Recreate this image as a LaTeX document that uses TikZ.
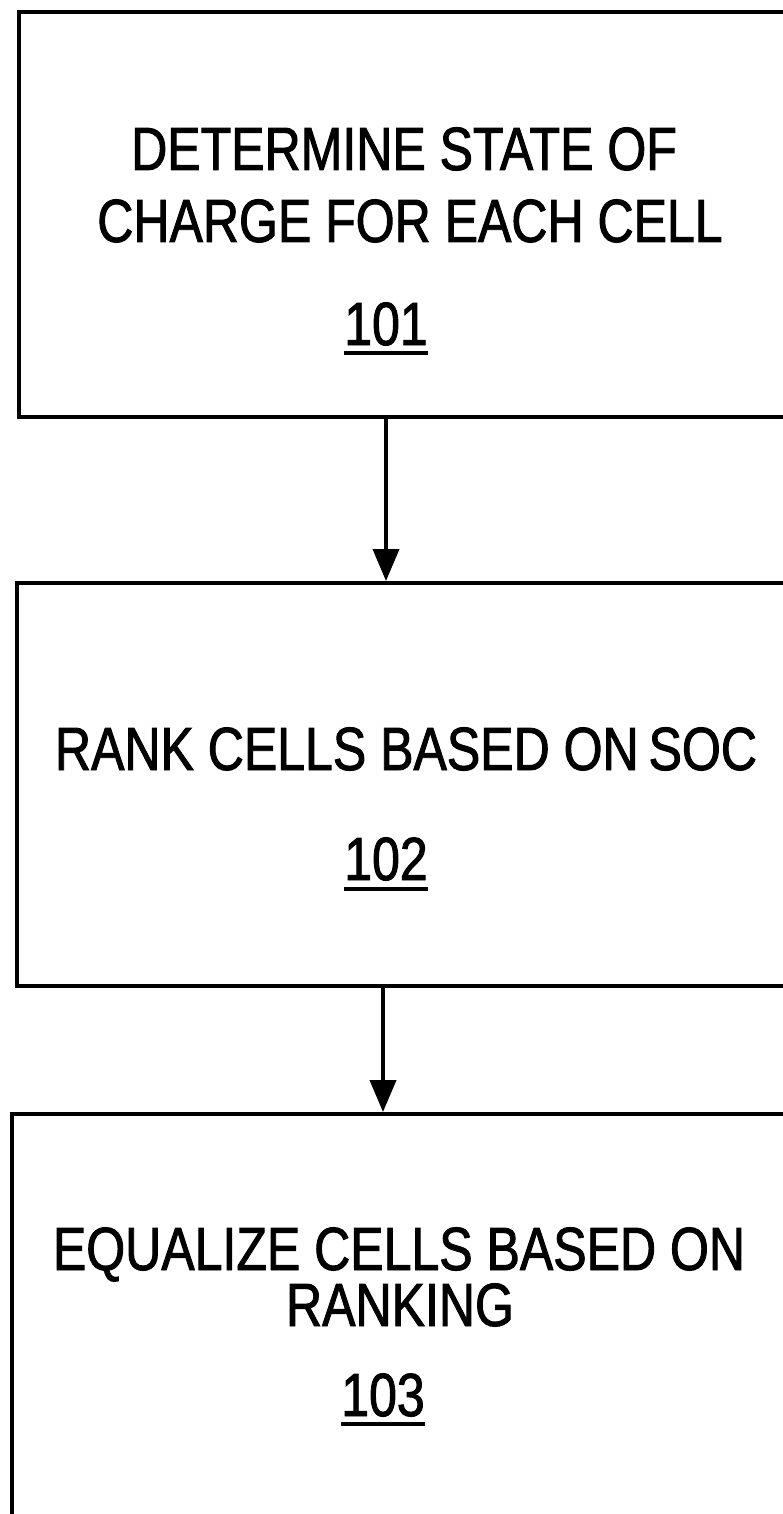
\documentclass[tikz,border=0pt]{standalone}
\usepackage{fontspec}
\setmainfont{Liberation Sans}[FakeStretch=0.82,FakeBold=1.5]
\usetikzlibrary{arrows.meta}
\begin{document}
\begin{tikzpicture}[x=1pt,y=-1pt,
  stepbox/.style={draw, line width=4pt, rectangle, anchor=north west, inner sep=0pt},
  lbl/.style={anchor=base, inner sep=0pt, font=\fontsize{61}{72}\selectfont},
  uline/.style={line width=3.5pt},
  conn/.style={line width=4pt, -{Triangle[width=26pt,length=32pt]}}]
\useasboundingbox (0,0) rectangle (783,1514);
\clip (0,0) rectangle (783,1514);
\fill[white] (0,0) rectangle (783,1514);
% boxes
\node[stepbox, minimum width=790pt, minimum height=405pt] (box1) at (17,10) {};
\node[stepbox, minimum width=790pt, minimum height=403pt] (box2) at (15,581) {};
\node[stepbox, minimum width=795pt, minimum height=430pt] (box3) at (10,1112) {};
% texts
\node[lbl] (t1a) at (404,170) {DETERMINE STATE OF};
\node[lbl] (t1b) at (410,242) {CHARGE FOR EACH CELL};
\node[lbl] (n101) at (386,345) {101};
\node[lbl] (t2a) at (406,770) {RANK CELLS BASED ON\kern-4pt\ SOC};
\node[lbl] (n102) at (386,880) {102};
\node[lbl] (t3a) at (399,1270) {EQUALIZE CELLS BASED ON};
\node[lbl] (t3b) at (400,1326) {RANKING};
\node[lbl] (n103) at (383,1416) {103};
% underlines
\draw[uline] ([yshift=-8pt]n101.base west) -- ([yshift=-8pt]n101.base east);
\draw[uline] ([yshift=-9pt]n102.base west) -- ([yshift=-9pt]n102.base east);
\draw[uline] ([yshift=-8pt]n103.base west) -- ([yshift=-8pt]n103.base east);
% connectors
\coordinate (xa) at (386,0);
\coordinate (xb) at (383,0);
\draw[conn] (box1.south -| xa) -- (box2.north -| xa);
\draw[conn] (box2.south -| xb) -- (box3.north -| xb);
\end{tikzpicture}
\end{document}
